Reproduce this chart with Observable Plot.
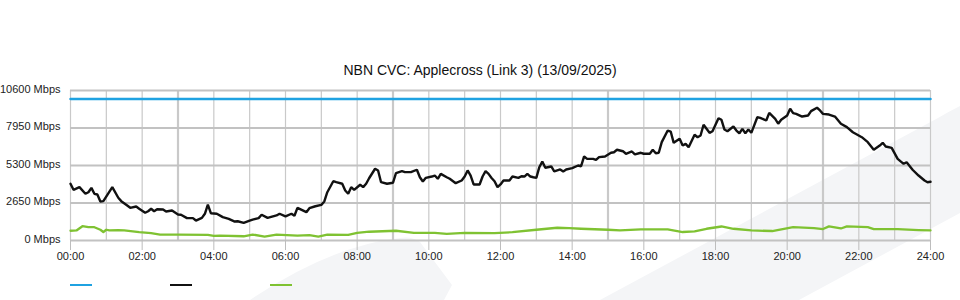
<!DOCTYPE html>
<html><head><meta charset="utf-8">
<script src="https://cdn.jsdelivr.net/npm/d3@7"></script>
<script src="https://cdn.jsdelivr.net/npm/@observablehq/plot@0.6"></script>
<style>
body{margin:0;background:#fff;font-family:"Liberation Sans",Arial,sans-serif;}
#wrap{position:relative;width:960px;height:300px;overflow:hidden;}
#bg{position:absolute;left:0;top:0;}
#chart{position:absolute;left:0;top:0;}
#title{position:absolute;left:0;width:960px;top:62px;text-align:center;font-size:14px;color:#111;line-height:16px;}
.leg{position:absolute;top:284px;width:22px;height:2px;}
</style></head>
<body><div id="wrap">
<svg id="bg" width="960" height="300">
<path d="M250,300 Q330,246 400,238 Q412,236 420,242 L452,285 L444,300 Z" fill="#f4f5f7"/>
<path d="M600,300 L938,118 Q948,112 960,106 L960,213 L799,300 Z" fill="#f4f5f7"/>
</svg>
<div id="chart"></div>
<div id="title"></div>
<div id="legend"></div>
</div>
<script>
const titleText = "NBN CVC: Applecross (Link 3) (13/09/2025)";
const yTicks = [0, 2650, 5300, 7950, 10600];
const xTickHours = [0, 2, 4, 6, 8, 10, 12, 14, 16, 18, 20, 22, 24];
const gridHours = d3.range(0, 25);
const capacityMinutes = [0, 1440];
const capacityMbps = [10000, 10000];

const trafficMinutes = [0,5,15,25,30,35,40,45,50,55,70,80,85,95,100,110,115,125,130,135,140,145,155,160,170,180,185,195,205,210,220,225,230,235,245,255,265,275,280,290,300,305,315,320,330,345,350,360,370,375,380,395,400,410,420,425,430,440,445,455,460,465,470,475,485,490,495,500,510,515,520,530,540,545,555,560,570,580,585,590,595,605,610,615,620,630,635,645,655,660,665,670,675,685,690,695,700,705,710,715,720,725,735,740,750,755,760,765,770,775,780,785,790,795,805,810,820,825,830,840,850,855,860,865,875,880,885,895,905,910,915,925,930,940,945,955,960,970,975,980,985,990,1000,1005,1010,1020,1025,1030,1035,1045,1050,1055,1060,1070,1075,1085,1090,1095,1100,1110,1115,1120,1125,1130,1135,1140,1150,1155,1165,1170,1180,1185,1190,1200,1205,1210,1215,1225,1235,1240,1250,1255,1260,1270,1280,1290,1300,1310,1325,1335,1345,1355,1360,1365,1375,1385,1395,1400,1410,1420,1430,1435,1440];
const trafficMbps = [4010,3580,3770,3300,3410,3720,3300,3250,2760,2780,3770,3020,2780,2470,2310,2400,2240,1960,2070,2240,2070,2210,2190,2050,2120,1840,1820,1580,1580,1410,1600,1890,2540,1930,1890,1650,1530,1340,1360,1250,1410,1480,1580,1820,1600,1770,1890,1700,1890,1750,2310,2000,2280,2420,2520,2760,3410,4190,4120,4010,3530,3300,3770,3580,3940,3770,4010,4400,5070,4950,4120,4010,4080,4760,4900,4830,4830,5000,4470,4170,4430,4520,4590,4360,4710,4470,4360,4050,4240,4520,4950,4590,3960,3960,4520,4900,4710,4420,4190,3770,3960,4240,4240,4520,4430,4540,4520,4710,4520,4470,4430,5180,5580,5140,5230,4880,5020,4880,5020,5110,5300,5250,5940,5770,5770,5700,5890,5940,6200,6240,6410,6310,6130,6290,6080,6200,6130,6130,6410,6170,6200,6950,7770,7700,6900,7190,6710,6830,6590,7470,7300,7420,8180,7610,7720,8640,8530,7840,7720,8060,7770,7580,7890,7580,7840,7610,8710,8670,8480,9020,8600,8250,8530,8830,9310,9000,8950,8760,8830,9140,9380,9190,8950,8900,8760,8250,8010,7650,7300,6950,6410,6710,6900,6640,6550,5770,5420,5530,5000,4590,4240,4120,4150];

const otherMinutes = [0,10,20,30,40,50,55,60,65,80,90,115,135,150,180,230,240,250,290,305,325,345,380,400,415,430,465,480,500,545,575,610,630,660,710,740,780,815,835,855,900,920,955,1000,1025,1045,1065,1090,1110,1140,1175,1210,1245,1260,1270,1290,1300,1335,1345,1385,1420,1440];
const otherMbps = [690,710,1010,940,940,760,600,760,710,730,710,590,520,420,420,400,320,350,300,420,280,420,350,380,280,420,400,540,620,690,540,540,470,540,520,590,760,900,870,830,760,710,780,780,600,640,830,990,830,710,670,940,880,810,1000,850,1000,940,810,810,740,710];

const seriesColors = ["#1fa2e1", "#111111", "#7fc232"];

const zip = (ts, vs) => ts.map((t, i) => ({t, v: vs[i]}));
const capacity = zip(capacityMinutes, capacityMbps);
const traffic = zip(trafficMinutes, trafficMbps);
const other = zip(otherMinutes, otherMbps);

const hhmm = m => String(Math.floor(m / 60)).padStart(2, "0") + ":00";

const chart = Plot.plot({
  width: 960, height: 300,
  marginLeft: 70, marginRight: 30, marginTop: 90, marginBottom: 60,
  style: {background: "transparent", fontFamily: "'Liberation Sans', Arial, sans-serif", fontSize: "11px", color: "#222"},
  x: {domain: [0, 1440]},
  y: {domain: [0, 10600]},
  marks: [
    Plot.ruleX(gridHours, {x: d => d * 60, stroke: "#c9c9c9", strokeWidth: d => d % 6 === 3 ? 2.2 : 1.2}),
    Plot.ruleY(yTicks, {y: d => d, stroke: "#c2c2c2", strokeWidth: 2}),
    Plot.axisX({ticks: xTickHours.map(h => h * 60), tickFormat: hhmm, tickSize: 10, tickPadding: 2, stroke: "#bdbdbd", label: null}),
    Plot.axisY({ticks: yTicks, tickFormat: d => d + " Mbps", tickSize: 0, tickPadding: 10, dy: -1.5, label: null}),
    Plot.line(capacity, {x: "t", y: "v", stroke: seriesColors[0], strokeWidth: 2.5}),
    Plot.line(other, {x: "t", y: "v", stroke: seriesColors[2], strokeWidth: 2.3}),
    Plot.line(traffic, {x: "t", y: "v", stroke: seriesColors[1], strokeWidth: 2.4, strokeLinejoin: "miter"})
  ]
});
document.getElementById("chart").append(chart);
document.getElementById("title").textContent = titleText;
const legend = document.getElementById("legend");
seriesColors.forEach((c, i) => {
  const el = document.createElement("div");
  el.className = "leg";
  el.style.left = (70 + i * 100) + "px";
  el.style.background = c;
  legend.append(el);
});
</script>
</body></html>
